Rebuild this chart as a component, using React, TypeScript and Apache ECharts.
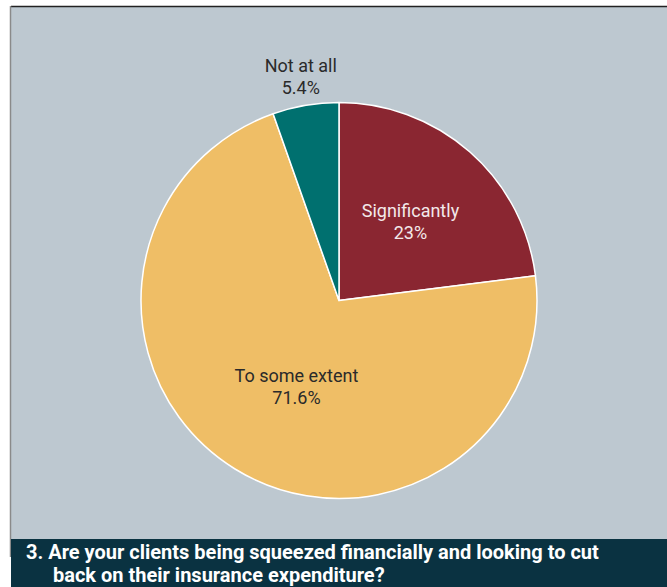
import React, { useEffect, useRef } from "react";
import * as echarts from "echarts";

const categories = ["Significantly", "To some extent", "Not at all"];
const values = [23, 71.6, 5.4];
const sliceColors = ["#8a2631", "#efbe66", "#00706f"];
const labelColors = ["#f3e9ea", "#2a2a2a", "#2a2a2a"];
const labelOffsets = [[4, -2], [11, -1], [-21, -123]];
const titleLines = [
  "3. Are your clients being squeezed financially and looking to cut",
  "back on their insurance expenditure?",
];

export default function App() {
  const ref = useRef<HTMLDivElement>(null);
  useEffect(() => {
    if (!ref.current) return;
    const chart = echarts.init(ref.current, null, { renderer: "svg" });
    const font = "Roboto, 'Liberation Sans', Arial, sans-serif";
    chart.setOption({
      animation: false,
      backgroundColor: "#ffffff",
      graphic: [
        { type: "rect", z: -10, shape: { x: 11, y: 6, width: 656, height: 534 }, style: { fill: "#bdc8d0" } },
        { type: "line", z: -5, shape: { x1: 11, y1: 6.5, x2: 667, y2: 6.5 }, style: { stroke: "#222222", lineWidth: 1.5 } },
        { type: "line", z: -5, shape: { x1: 10.5, y1: 6, x2: 10.5, y2: 557 }, style: { stroke: "#8a8a8a", lineWidth: 1.5 } },
        { type: "rect", z: -4, shape: { x: 11, y: 539, width: 656, height: 48 }, style: { fill: "#0a3241" } },
        { type: "text", x: 26, y: 552, style: { text: titleLines[0], fill: "#ffffff", font: "bold 20px " + font, verticalAlign: "middle" } },
        { type: "text", x: 53, y: 575, style: { text: titleLines[1], fill: "#ffffff", font: "bold 20px " + font, verticalAlign: "middle" } },
      ],
      series: [
        {
          type: "pie",
          center: [339, 300.5],
          radius: 198,
          startAngle: 90,
          clockwise: true,
          avoidLabelOverlap: false,
          labelLine: { show: false },
          itemStyle: { borderColor: "#ffffff", borderWidth: 1.5 },
          data: categories.map((name, i) => ({
            name,
            value: values[i],
            itemStyle: { color: sliceColors[i] },
            label: {
              show: true,
              position: "inside",
              offset: labelOffsets[i],
              color: labelColors[i],
              fontFamily: font,
              fontSize: 18,
              lineHeight: 22,
              formatter: (p: any) => p.name + "\n" + p.value + "%",
            },
          })),
        },
      ],
    });
    return () => chart.dispose();
  }, []);
  return <div ref={ref} style={{ position: "fixed", left: 0, top: 0, width: 667, height: 587 }} />;
}
